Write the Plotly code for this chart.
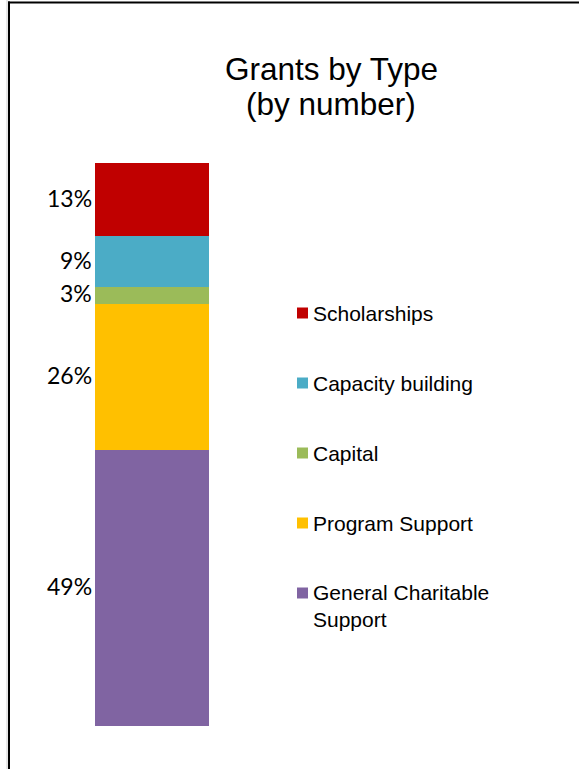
import plotly.graph_objects as go

# Grant categories, bottom of the stack first
categories = ["General Charitable Support", "Program Support", "Capital",
              "Capacity building", "Scholarships"]
shares = [49, 26, 3, 9, 13]
colors = ["#8064A2", "#FFC000", "#9BBB59", "#4BACC6", "#C00000"]
legend_labels = ["General Charitable<br>Support", "Program Support", "Capital",
                 "Capacity building", "Scholarships"]

W, H = 579, 769

# Pixel geometry of the single stacked column
bar_left_px, bar_right_px = 95, 209
bar_top_px, bar_bottom_px = 163, 726
ppx = bar_right_px - bar_left_px          # px per x unit (bar width = 1)
ppy = (bar_bottom_px - bar_top_px) / 100  # px per percentage point
x0 = -0.5 - bar_left_px / ppx
x1 = x0 + W / ppx
y0 = -(H - bar_bottom_px) / ppy
y1 = y0 + H / ppy

fig = go.Figure()
for cat, val, col in zip(categories, shares, colors):
    fig.add_trace(go.Bar(
        x=[0], y=[val], width=1, name=cat,
        marker=dict(color=col, line=dict(width=0)),
        showlegend=False, hoverinfo="name+y",
    ))

annotations = []
# Percentage labels to the left of each segment
base = 0
for val in shares:
    annotations.append(dict(
        x=-0.5, y=base + val / 2, xref="x", yref="y",
        xanchor="right", yanchor="middle", xshift=-1, yshift=2,
        text=f"{val}%", showarrow=False,
        font=dict(family="Lato", size=23, color="#000000"),
    ))
    base += val

# Custom legend, top to bottom
shapes = []
row0, row_gap, line_h = 313, 70, 25
for i, idx in enumerate(reversed(range(len(categories)))):
    cy = row0 + i * row_gap
    nlines = legend_labels[idx].count("<br>") + 1
    shapes.append(dict(
        type="rect", xref="paper", yref="paper",
        x0=297 / W, x1=308 / W,
        y0=1 - (cy + 5.5) / H, y1=1 - (cy - 5.5) / H,
        fillcolor=colors[idx], line=dict(width=0),
    ))
    annotations.append(dict(
        x=311 / W, y=1 - (cy + (nlines - 1) * line_h / 2) / H,
        xref="paper", yref="paper", xanchor="left", yanchor="middle",
        align="left", text=legend_labels[idx], showarrow=False,
        font=dict(family="Liberation Sans", size=21, color="#000000"),
    ))

# Two-line title
for txt, cy in [("Grants by Type", 69), ("(by number)", 104)]:
    annotations.append(dict(
        x=331 / W, y=1 - cy / H, xref="paper", yref="paper",
        xanchor="center", yanchor="middle", text=txt, showarrow=False,
        font=dict(family="Liberation Sans", size=31.5, color="#000000"),
    ))

# Frame lines along the left and top edges
shapes += [
    dict(type="line", xref="paper", yref="paper",
         x0=7 / W, x1=7 / W, y0=0, y1=1, line=dict(color="#d0d0d0", width=1)),
    dict(type="line", xref="paper", yref="paper",
         x0=9 / W, x1=9 / W, y0=0, y1=1 - 1.5 / H, line=dict(color="#000000", width=2)),
    dict(type="line", xref="paper", yref="paper",
         x0=8 / W, x1=1, y0=1 - 2.5 / H, y1=1 - 2.5 / H, line=dict(color="#000000", width=2)),
]

fig.update_layout(
    width=W, height=H,
    margin=dict(l=0, r=0, t=0, b=0),
    paper_bgcolor="white", plot_bgcolor="white",
    barmode="stack", bargap=0,
    xaxis=dict(range=[x0, x1], visible=False, fixedrange=True),
    yaxis=dict(range=[y0, y1], visible=False, fixedrange=True),
    annotations=annotations, shapes=shapes,
)

fig.write_html("out.html")
